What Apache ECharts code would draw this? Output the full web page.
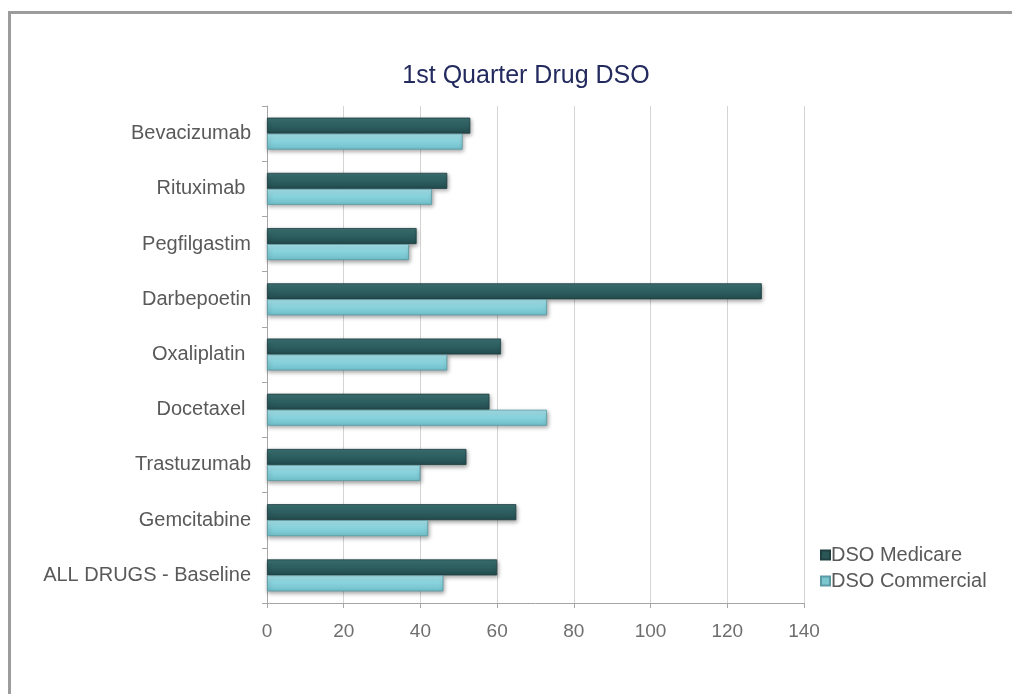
<!DOCTYPE html>
<html>
<head>
<meta charset="utf-8">
<script src="https://cdn.jsdelivr.net/npm/echarts@6/dist/echarts.min.js"></script>
<style>
html,body{margin:0;padding:0;background:#fff;}
#chart{width:1012px;height:694px;}
</style>
</head>
<body>
<div id="chart"></div>
<script>
const categories = ["Bevacizumab", "Rituximab ", "Pegfilgastim", "Darbepoetin", "Oxaliplatin ", "Docetaxel ", "Trastuzumab", "Gemcitabine", "ALL DRUGS - Baseline"];
const medicare = [53, 47, 39, 129, 61, 58, 52, 65, 60];
const commercial = [51, 43, 37, 73, 47, 73, 40, 42, 46];
const xTicks = [0, 20, 40, 60, 80, 100, 120, 140];

const chart = echarts.init(document.getElementById('chart'), null, {renderer: 'canvas'});
const font = 'Liberation Sans, Arial, sans-serif';
function grad(c1, c2, c3) {
  return new echarts.graphic.LinearGradient(0, 0, 0, 1, [
    {offset: 0, color: c1}, {offset: 0.45, color: c2}, {offset: 1, color: c3}
  ]);
}
chart.setOption({
  animation: false,
  backgroundColor: '#ffffff',
  graphic: [{
    type: 'rect', left: 7, top: 10, silent: true,
    shape: {width: 1100, height: 800},
    style: {fill: 'none', stroke: '#9c9c9c', lineWidth: 3}
  }],
  title: {
    text: '1st Quarter Drug DSO',
    left: 521, top: 59, textAlign: 'center',
    textStyle: {color: '#232a5e', fontSize: 25, fontWeight: 'normal', fontFamily: font}
  },
  legend: {
    orient: 'vertical', left: 815, top: 540,
    itemWidth: 9, itemHeight: 9, itemGap: 6,
    icon: 'rect',
    textStyle: {color: '#595959', fontSize: 20, fontFamily: font, padding: [0, 0, 0, -4]},
    data: [
      {name: 'DSO Medicare', itemStyle: {color: '#2a5658'}},
      {name: 'DSO Commercial', itemStyle: {color: '#7cc6d0'}}
    ]
  },
  grid: {left: 267, right: 208, top: 106, bottom: 91, containLabel: false},
  xAxis: {
    type: 'value', min: xTicks[0], max: xTicks[xTicks.length - 1], interval: 20,
    axisLine: {show: true, lineStyle: {color: '#a6a6a6', width: 1}},
    axisTick: {show: true, length: 5, lineStyle: {color: '#a6a6a6'}},
    splitLine: {show: true, lineStyle: {color: '#d4d4d4', width: 1}},
    axisLabel: {color: '#6e6e6e', fontSize: 19, fontFamily: font, margin: 19}
  },
  yAxis: {
    type: 'category', data: categories, inverse: true,
    axisLine: {show: true, lineStyle: {color: '#a6a6a6', width: 1}},
    axisTick: {show: true, length: 5, lineStyle: {color: '#a6a6a6'}},
    axisLabel: {color: '#595959', fontSize: 20, fontFamily: font, margin: 16}
  },
  series: [{
    name: 'DSO Medicare', type: 'bar', data: medicare,
    barWidth: 16, barGap: '0%',
    itemStyle: {
      color: grad('#3d7274', '#2e6062', '#234c4e'),
      borderColor: '#1e3e40', borderWidth: 0.8,
      shadowColor: 'rgba(0,0,0,0.35)', shadowBlur: 4, shadowOffsetX: 1, shadowOffsetY: 2
    }
  }, {
    name: 'DSO Commercial', type: 'bar', data: commercial,
    barWidth: 16, barGap: '0%',
    itemStyle: {
      color: grad('#a8e2ea', '#89d3dd', '#6fbfca'),
      borderColor: '#5a9aa3', borderWidth: 0.8,
      shadowColor: 'rgba(0,0,0,0.35)', shadowBlur: 4, shadowOffsetX: 1, shadowOffsetY: 2
    }
  }]
});
</script>
</body>
</html>
